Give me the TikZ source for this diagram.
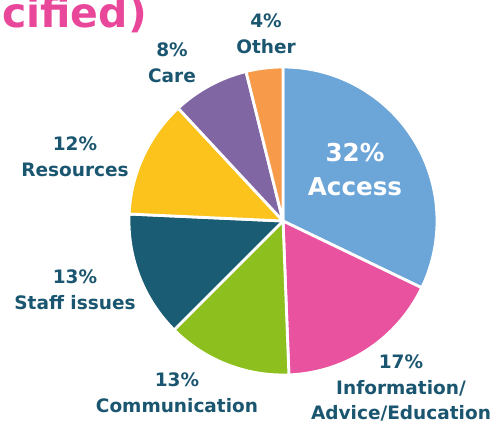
\documentclass[tikz,border=0pt]{standalone}
\usepackage{fontspec}
\setmainfont{DejaVu Sans}
\usetikzlibrary{positioning}

\definecolor{accessblue}{HTML}{6CA5D8}
\definecolor{infopink}{HTML}{E8529E}
\definecolor{commgreen}{HTML}{8DC01E}
\definecolor{staffteal}{HTML}{1B5C75}
\definecolor{resyellow}{HTML}{FBC31C}
\definecolor{carepurple}{HTML}{8066A3}
\definecolor{otherorange}{HTML}{F79B4B}
\definecolor{labelteal}{HTML}{1B5670}
\definecolor{titlepink}{HTML}{E8479A}

\begin{document}
\begin{tikzpicture}[x=0.03cm, y=0.03cm,
    lbl/.style={text=labelteal, align=center, inner sep=0pt,
        font=\fontsize{15.8}{22}\selectfont\bfseries},
    biglbl/.style={text=white, align=center, inner sep=0pt,
        font=\fontsize{21}{29}\selectfont\bfseries}]
    \useasboundingbox (-283,-206) rectangle (218,221);

    % Slices (clockwise from the top)
    \foreach \a/\b/\c in {90/-25.7/accessblue, -25.7/-87.8/infopink,
        -87.8/-135/commgreen, -135/-182.6/staffteal, 177.4/132.9/resyellow,
        132.9/103.9/carepurple, 103.9/90/otherorange} {
        \fill[\c, draw=white, line width=2.4pt, line join=round]
            (0,0) -- (\a:154) arc[start angle=\a, end angle=\b, radius=154] -- cycle;
    }

    % Title (cut off at the top)
    \node[anchor=base west, inner sep=0pt, text=titlepink,
        font=\fontsize{35}{35}\selectfont\bfseries] (title) at (-281,193) {cified)};

    % Labels
    \node[biglbl] (access) at (72,51) {32\%\\Access};
    \node[lbl] (other) at (-17,187) {4\%\\Other};
    \node[lbl] (care) at (-111,158) {8\%\\Care};
    \node[lbl] (resources) at (-208,64) {12\%\\Resources};
    \node[lbl] (staff) at (-208,-69) {13\%\\Staff issues};
    \node[lbl] (comm) at (-106,-172) {13\%\\Communication};
    \node[lbl] (info) at (118,-167) {17\%\\Information/\\Advice/Education};
\end{tikzpicture}
\end{document}
